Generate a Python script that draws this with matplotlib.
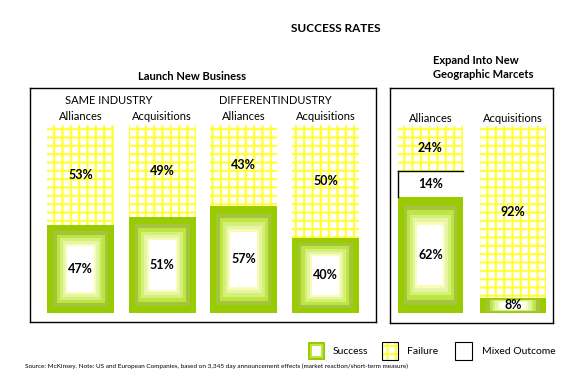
import matplotlib.pyplot as plt
from matplotlib.patches import Rectangle

plt.rcParams['font.family'] = ['Lato', 'DejaVu Sans']
plt.rcParams['hatch.linewidth'] = 1.5

# Launch New Business panel
left_labels = ['Alliances', 'Acquisitions', 'Alliances', 'Acquisitions']
left_success = [47, 51, 57, 40]
left_failure = [53, 49, 43, 50]

# Expand Into New Geographic Markets panel
right_labels = ['Alliances', 'Acquisitions']
right_success = [62, 8]
right_mixed = [14, 0]
right_failure = [24, 92]

green_layers = ['#99cc00', '#a3c43c', '#bde640', '#d2f07a', '#e4f5a8', '#fbfcb4', 'white']
insets = [0, 0.09, 0.14, 0.19, 0.23, 0.27, 0.30]
grid_yellow = '#ffff33'


def success_block(ax, x, w, h):
    # nested rectangles, dark green rim fading to a white centre
    for i, c in enumerate(green_layers):
        f = insets[i]
        ax.add_patch(Rectangle((x - w / 2 + w * f, h * f * 0.8), w * (1 - 2 * f), h * (1 - 1.6 * f),
                               facecolor=c, edgecolor='none', zorder=2 + i))


def failure_block(ax, x, w, bottom, top):
    ax.bar(x, top - bottom, w, bottom=bottom, color='white', edgecolor=grid_yellow,
           hatch='++', linewidth=0, zorder=2)


def pct(ax, x, y, v):
    ax.text(x, y, f'{v}%', ha='center', va='center', fontsize=9, fontweight='bold', zorder=20)


fig = plt.figure(figsize=(5.67, 3.8), dpi=100)
W, H = 567, 380

# left panel
axl = fig.add_axes([30 / W, 1 - 322 / H, 346 / W, 234 / H])
axl.set_xlim(-0.62, 3.62)
axl.set_ylim(-4.8, 119.7)
bw = 0.82
for i in range(4):
    s = left_success[i]
    success_block(axl, i, bw, s)
    failure_block(axl, i, bw, s, 100)
    pct(axl, i, s / 2, s)
    pct(axl, i, (s + 100) / 2, left_failure[i])
    axl.text(i, 104.5, left_labels[i], ha='center', va='center', fontsize=8)
axl.text(0.34, 113, 'SAME INDUSTRY', ha='center', va='center', fontsize=8)
axl.text(2.39, 113, 'DIFFERENTINDUSTRY', ha='center', va='center', fontsize=8)

# right panel
axr = fig.add_axes([390 / W, 1 - 323 / H, 163 / W, 235 / H])
axr.set_xlim(-0.49, 1.485)
axr.set_ylim(-5.3, 120.3)
bw = 0.79
for i in range(2):
    s = right_success[i]
    m = right_mixed[i]
    success_block(axr, i, bw, s)
    pct(axr, i, s / 2 if s > 20 else s / 2 + 0.5, s)
    if m:
        axr.bar(i, m, bw, bottom=s, color='white', edgecolor='none', zorder=2)
        axr.plot([i - bw / 2, i + bw / 2], [s + m, s + m], color='black', lw=1, zorder=3)
        axr.plot([i - bw / 2, i - bw / 2], [s, s + m], color='black', lw=1, zorder=3)
        pct(axr, i, s + m / 2, m)
    failure_block(axr, i, bw, s + m, 100)
    pct(axr, i, (s + m + 100) / 2, right_failure[i])
    axr.text(i, 104, right_labels[i], ha='center', va='center', fontsize=8)

for ax in (axl, axr):
    ax.set_xticks([])
    ax.set_yticks([])
    for sp in ax.spines.values():
        sp.set_linewidth(1)
        sp.set_color('black')

fig.text(336 / W, 1 - 28 / H, 'SUCCESS RATES', ha='center', va='center', fontsize=8.5, fontweight='bold')
fig.text(192 / W, 1 - 77 / H, 'Launch New Business', ha='center', va='center', fontsize=8, fontweight='bold')
fig.text(433 / W, 1 - 61 / H, 'Expand Into New', ha='left', va='center', fontsize=8, fontweight='bold')
fig.text(433 / W, 1 - 74 / H, 'Geographic Marcets', ha='left', va='center', fontsize=8, fontweight='bold')

# legend
axg = fig.add_axes([0, 0, 1, 1], zorder=-1)
axg.set_xlim(0, W)
axg.set_ylim(H, 0)
axg.axis('off')
for i, c in enumerate(green_layers[:1] + green_layers[2:3] + ['white']):
    d = [0, 2, 4][i]
    axg.add_patch(Rectangle((308 + d, 342 + d), 17 - 2 * d, 18 - 2 * d, facecolor=c, edgecolor='none'))
axg.add_patch(Rectangle((382, 342), 16, 18, facecolor='white', edgecolor=grid_yellow, hatch='++', linewidth=0))
axg.add_patch(Rectangle((382, 342), 16, 18, facecolor='none', edgecolor='black', linewidth=0.8))
axg.add_patch(Rectangle((455, 342), 17, 18, facecolor='white', edgecolor='black', linewidth=0.8))
axg.text(333, 352, 'Success', va='center', fontsize=7.5)
axg.text(407, 352, 'Failure', va='center', fontsize=7.5)
axg.text(482, 352, 'Mixed Outcome', va='center', fontsize=7.5)
axg.text(25, 366, 'Source: McKinsey. Note: US and European Companies, based on 3,345 day announcement effects '
         '(market reaction/short-term measure)', va='center', fontsize=4.6)

fig.savefig('out.png', dpi=100)
